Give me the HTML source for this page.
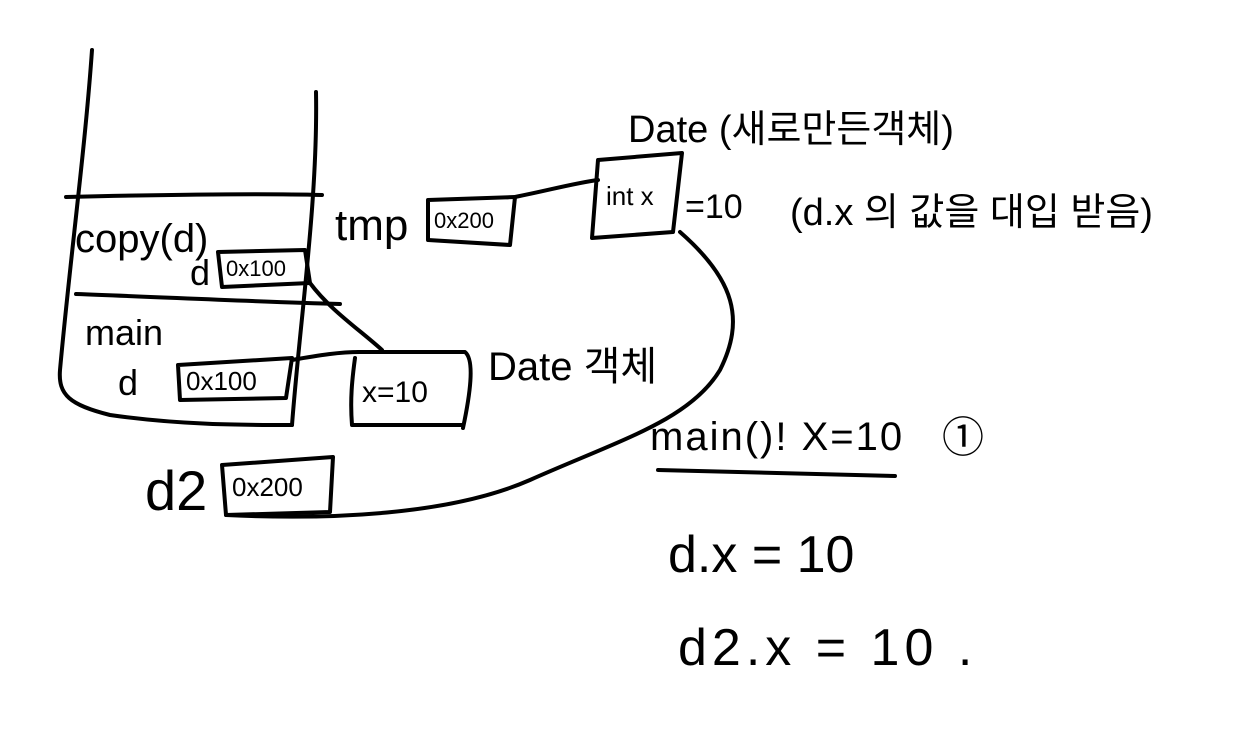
<!DOCTYPE html>
<html><head><meta charset="utf-8">
<style>
html,body{margin:0;padding:0;background:#fff;}
svg{display:block;}
text{font-family:"Liberation Sans","Noto Sans CJK KR",sans-serif;fill:#000;}
</style></head>
<body>
<svg width="1250" height="729" viewBox="0 0 1250 729" fill="none" stroke="#000" stroke-width="4" stroke-linecap="round" stroke-linejoin="round">
  <path d="M92 50 C85 150 70 260 60 370 C58 395 70 405 110 415 C180 425 240 425 292 425"/>
  <path d="M316 92 C318 200 300 320 292 425"/>
  <path d="M66 197 C150 195 250 193 322 195"/>
  <path d="M76 294 C160 297 260 302 340 304"/>

  <text x="75" y="252" font-size="40" stroke="none">copy(d)</text>
  <text x="190" y="285" font-size="36" stroke="none">d</text>
  <path d="M218 252 L305 250 L310 283 L222 287 Z"/>
  <text x="226" y="276" font-size="22" stroke="none">0x100</text>

  <text x="85" y="345" font-size="36" stroke="none">main</text>
  <text x="118" y="395" font-size="36" stroke="none">d</text>
  <path d="M178 365 L292 358 L286 398 L180 400 Z"/>
  <text x="186" y="390" font-size="26" stroke="none">0x100</text>

  <path d="M292 360 C320 355 340 352 360 352"/>
  <path d="M310 283 C330 310 360 330 382 350"/>
  <path d="M355 358 C352 380 350 400 352 425 M358 352 L465 352 C475 360 470 395 463 428 M352 425 L462 425"/>
  <text x="362" y="402" font-size="30" stroke="none">x=10</text>
  <text x="488" y="380" font-size="40" stroke="none">Date 객체</text>

  <text x="335" y="240" font-size="44" stroke="none">tmp</text>
  <path d="M428 200 L515 197 L510 245 L428 240 Z"/>
  <text x="434" y="228" font-size="22" stroke="none">0x200</text>
  <path d="M515 197 C550 190 575 183 598 180"/>

  <text x="628" y="142" font-size="38" stroke="none">Date (새로만든객체)</text>
  <path d="M598 160 L682 153 L673 232 L592 238 Z"/>
  <text x="606" y="205" font-size="26" stroke="none">int x</text>
  <text x="685" y="218" font-size="34" stroke="none">=10</text>
  <text x="790" y="225" font-size="38" stroke="none">(d.x 의 값을 대입 받음)</text>

  <text x="145" y="510" font-size="56" stroke="none">d2</text>
  <path d="M222 465 L333 457 L330 512 L226 515 Z"/>
  <text x="232" y="496" font-size="26" stroke="none">0x200</text>
  <path d="M226 515 C330 520 450 515 530 480 C620 440 690 420 720 370 C745 320 735 280 680 232"/>

  <text x="650" y="450" font-size="40" letter-spacing="2" stroke="none">main()! X=10</text>
  <text x="942" y="452" font-size="42" stroke="none">①</text>
  <path d="M658 470 C740 472 820 474 895 476"/>
  <text x="668" y="572" font-size="52" stroke="none">d.x = 10</text>
  <text x="678" y="665" font-size="52" letter-spacing="5" stroke="none">d2.x = 10 .</text>
</svg>
</body></html>
